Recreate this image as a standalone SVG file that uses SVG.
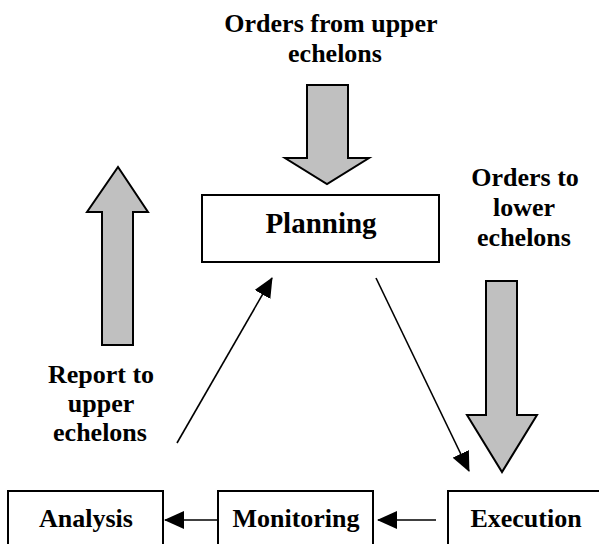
<svg xmlns="http://www.w3.org/2000/svg" width="599" height="544" viewBox="0 0 599 544">
  <defs>
    <style>
      text { font-family: 'Liberation Serif', 'DejaVu Serif', serif; font-weight: 700; font-size: 26px; fill: #000; text-anchor: middle; }
      .box { fill: #fff; stroke: #000; stroke-width: 2; }
      .big { fill: #c0c0c0; stroke: #000; stroke-width: 2; stroke-linejoin: miter; }
      .con { stroke: #000; stroke-width: 1.6; fill: none; }
    </style>
    <marker id="ah" viewBox="0 0 20 18" refX="19" refY="9" markerWidth="20" markerHeight="18" markerUnits="userSpaceOnUse" orient="auto">
      <path d="M0,0 L20,9 L0,18 Z" fill="#000"/>
    </marker>
  </defs>
  <rect width="599" height="544" fill="#fff"/>

  <g id="label-orders-upper" font-family="Liberation Serif">
    <text x="331" y="32">Orders from upper</text>
    <text x="335" y="62">echelons</text>
  </g>
  <g id="arrow-orders-upper">
    <path class="big" d="M307,85 L348,85 L348,158 L369,158 L327,184 L285,158 L307,158 Z"/>
  </g>

  <g id="planning">
    <rect class="box" x="202" y="195" width="237" height="67"/>
    <text x="321" y="233" style="font-size:29px">Planning</text>
  </g>

  <g id="label-orders-lower">
    <text x="525" y="186">Orders to</text>
    <text x="524" y="216">lower</text>
    <text x="524" y="246">echelons</text>
  </g>
  <g id="arrow-orders-lower">
    <path class="big" d="M486,281 L517,281 L517,415 L537,415 L502,472 L467,415 L486,415 Z"/>
  </g>

  <g id="arrow-report-upper">
    <path class="big" d="M102,345 L133,345 L133,212 L148,212 L118,167 L87,212 L102,212 Z"/>
  </g>
  <g id="label-report-upper">
    <text x="101" y="383">Report to</text>
    <text x="101" y="412">upper</text>
    <text x="100" y="441">echelons</text>
  </g>

  <g id="analysis">
    <rect class="box" x="8" y="491" width="155" height="60"/>
    <text x="86" y="527">Analysis</text>
  </g>
  <g id="monitoring">
    <rect class="box" x="218" y="491" width="155" height="60"/>
    <text x="296" y="527">Monitoring</text>
  </g>
  <g id="execution">
    <rect class="box" x="448" y="491" width="160" height="60"/>
    <text x="526" y="527">Execution</text>
  </g>

  <g id="connectors">
    <line class="con" x1="177" y1="443" x2="272" y2="278" marker-end="url(#ah)"/>
    <line class="con" x1="376" y1="278" x2="469" y2="471" marker-end="url(#ah)"/>
    <line class="con" x1="436" y1="520" x2="378" y2="520" marker-end="url(#ah)"/>
    <line class="con" x1="218" y1="520" x2="165" y2="520" marker-end="url(#ah)"/>
  </g>
</svg>
